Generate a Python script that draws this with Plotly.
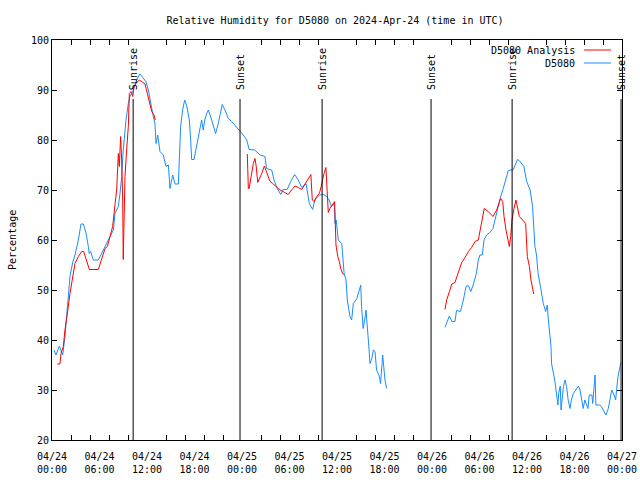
import pandas as pd
import plotly.graph_objects as go

# ---- data (hours since 2024-04-24 00:00 UTC, relative humidity %) ----
obs_hours = [0.25, 0.5, 0.93, 1.35, 1.64, 1.85, 2.06, 2.27, 2.6, 2.9, 3.33, 3.66, 3.96, 4.3, 4.59, 4.7, 4.88,
             5.22, 5.85, 6.48, 6.9, 7.33, 7.75, 7.96, 8.38, 8.59, 8.8, 9.0, 9.35, 9.64, 9.85, 10.2, 10.48,
             10.78, 11.1, 11.54, 11.87, 12.17, 12.46, 12.72, 13.0, 13.14, 13.35, 13.64, 14.06, 14.4, 14.7,
             14.9, 15.25, 15.54, 15.96, 16.08, 16.25, 16.5, 16.76, 17.0, 17.35, 17.52, 17.64, 17.94, 18.27,
             18.57, 18.9, 19.1, 19.3, 19.54, 19.75, 20.17, 20.67, 21.0, 21.5, 21.85, 22.27, 22.7, 23.1, 23.5,
             23.8, 24.17, 24.6, 24.9, 25.6, 26.3, 26.9, 27.1, 27.75, 28.04, 28.46, 28.9, 29.2, 29.7, 30.15,
             30.65, 31.1, 31.54, 32.1, 32.25, 32.5, 32.93, 33.2, 33.77, 34.27, 34.7, 35.0, 35.3, 35.66, 35.75,
             35.9, 36.16, 36.6, 36.9, 37.14, 37.3, 37.64, 37.85, 38.06, 38.5, 38.8, 39.0, 39.1, 39.3, 39.5,
             39.66, 39.96, 40.17, 40.4, 40.6, 40.8, 41.0, 41.35, 41.5, 41.77, 41.94, 42.06, 42.28,
             None,
             49.64, 50.19, 50.5, 50.9, 51.1, 51.6, 51.96, 52.3, 52.6, 52.9, 53.2, 53.6, 53.85, 54.06, 54.35,
             54.57, 54.9, 55.3, 55.7, 55.96, 56.17, 56.6, 57.0, 57.35, 57.64, 58.27, 58.5, 58.8, 59.0, 59.33,
             59.6, 59.96, 60.4, 60.7, 61.0, 61.2, 61.4, 61.7, 61.85, 62.06, 62.36, 62.56, 62.7, 62.9, 63.03,
             63.1, 63.3, 63.5, 63.75, 63.9, 64.0, 64.2, 64.3, 64.46, 64.6, 64.8, 65.0, 65.2, 65.43, 65.6,
             65.85, 66.2, 66.5, 66.7, 66.9, 67.1, 67.3, 67.5, 67.7, 67.86, 68.2, 68.3, 68.46, 68.6, 68.7,
             69.2, 69.4, 69.7, 69.97, 70.27, 70.57, 70.7, 71.0, 71.2, 71.33, 71.5, 71.75, 71.87]
obs_rh = [38, 37, 38.8, 37, 40.7, 44.7, 49.4, 52.7, 55.4, 57, 60, 63.2, 63.2, 61.4, 58.7, 57.3, 57.7,
          56, 56, 58, 59.3, 60.7, 62, 65.3, 66.7, 69.3, 72.7, 78, 84, 87.3, 88.7, 89.7, 91,
          92.3, 93.2, 92.3, 91.7, 90, 87.3, 85.3, 83.3, 79.3, 81, 77.7, 77, 74.7, 75,
          70.3, 73, 71.2, 71.2, 76, 82.7, 86, 88, 87, 84, 80, 76.1, 76.1, 78.7,
          80.7, 84, 82, 84, 85.3, 86, 84, 81.3, 83.3, 87.1, 86, 84.3, 83.7, 83, 82.3,
          81.7, 81, 80, 78.1, 78, 77, 76.7, 74.3, 74, 72, 70.3, 69.1, 70.1, 70.1, 71.7,
          73.1, 72, 70.5, 71.2, 69.7, 67.3, 66.1, 68, 69, 69.1, 68.7, 68, 66.7, 67.3, 63.3,
          64, 60, 59.3, 53.3, 52, 48, 44.7, 44, 47.3, 48.3, 50, 51, 46.7, 42.3, 44,
          46, 40, 35.3, 36.3, 38, 37.7, 34, 32.7, 31.3, 37, 34, 32, 30.3,
          None,
          42.5, 44.8, 43.7, 43.7, 45.9, 45.7, 48, 50.7, 50.9, 49.7, 51, 53.3, 56, 57, 57,
          60, 61, 61.5, 62.3, 64, 65.7, 68.3, 70.3, 72.3, 73.9, 74.1, 75, 76.1, 75.9, 75.2,
          74.7, 71.7, 70, 66.7, 58.7, 57, 53.3, 50.7, 49.3, 47.3, 45.7, 47, 44, 41, 38.7,
          35.3, 33.7, 32, 29, 27, 29.3, 30.8, 26, 29.3, 30.7, 32, 30.7, 28, 26.3, 28,
          29.3, 30.1, 30.8, 30, 28, 26.3, 28, 27.3, 26.3, 29, 29, 27.3, 31.3, 33, 27,
          27, 26.7, 25.7, 25, 26.3, 29, 30, 29, 28, 30.3, 32.7, 34.7, 35.5]

ana_hours = [0.67, 1.0, 1.14, 1.43, 1.64, 1.85, 2.06, 2.27, 2.48, 2.7, 2.9, 3.33, 3.75, 4.0, 4.38, 4.72,
             5.85, 6.27, 6.7, 7.0, 7.33, 7.66, 7.83, 7.96, 8.17, 8.3, 8.38, 8.5, 8.67, 8.8, 8.93, 9.0,
             9.1, 9.22, 9.43, 9.64, 9.77, 9.98, 10.2, 10.36, 10.6, 11.03, 11.33, 11.75, 12.04, 12.3,
             12.6, 12.88, 13.05,
             None,
             24.67, 24.8, 24.9, 25.1, 25.43, 25.64, 25.8, 25.98, 26.5, 26.82, 27.1, 27.54, 27.87, 28.3,
             28.8, 29.4, 29.85, 30.27, 30.7, 31.1, 31.54, 31.96, 32.38, 32.7, 32.88, 33.1, 33.43, 33.77,
             34.0, 34.15, 34.36, 34.6, 34.74, 34.9, 35.1, 35.37, 35.6, 35.7, 35.87, 36.1, 36.3, 36.47,
             36.7, 36.9,
             None,
             49.64, 49.85, 50.2, 50.5, 50.9, 51.2, 51.45, 51.75, 52.17, 52.6, 53.0, 53.43, 53.85, 54.06,
             54.35, 54.6, 55.1, 55.7, 56.17, 56.46, 56.67, 56.93, 57.1, 57.35, 57.56, 57.77, 57.94, 58.1,
             58.36, 58.6, 58.78, 59.03, 59.45, 59.83, 60.04, 60.3, 60.5, 60.7, 60.85]
ana_rh = [35.2, 35.2, 37.3, 38.7, 42, 44, 46.7, 49.3, 51.3, 54, 55.3, 56.7, 57.7, 57.7, 56, 54.1,
          54.1, 56, 58.3, 58.7, 60.7, 62.7, 65.3, 67.3, 70, 74.7, 77.3, 74.7, 80.7, 76, 68, 56.1,
          62.7, 72.7, 78, 82.7, 89.3, 89.7, 88.7, 90.7, 91.3, 92, 91.7, 91.2, 89.3, 87.3,
          85.7, 85, 84,
          None,
          77.2, 70.3, 70.3, 72.3, 75.3, 76.3, 74.7, 71.5, 73.3, 74.8, 73.7, 71.7, 71.3, 70.7,
          70, 69.5, 69.1, 70, 70.8, 70.5, 70.1, 71.2, 72.3, 73.1, 68, 67.7, 68.7, 69.3,
          70.7, 72, 73.3, 74.5, 69.3, 65.5, 66.3, 67, 67.5, 67.7, 59, 56.7, 55.7, 54.3,
          53.3, 53.1,
          None,
          46.1, 48, 49.7, 51.2, 51.5, 53, 54.3, 55.5, 56.5, 57.7, 58.5, 59.7, 60, 61.7,
          64.3, 66.3, 65.7, 64.7, 66, 67.3, 68.3, 67.7, 64.7, 62, 60, 58.7, 60.7, 64,
          66.3, 68, 66.7, 64.7, 64, 63.3, 56.7, 54.7, 52, 50, 49.2]

event_labels = ["Sunrise", "Sunset", "Sunrise", "Sunset", "Sunrise", "Sunset"]
event_hours = [10.25, 23.75, 34.12, 47.88, 58.12, 71.88]

series_names = ["D5080 Analysis", "D5080"]
series_colors = ["#ff0000", "#1a8cff"]

base = pd.Timestamp("2024-04-24 00:00")


def to_time(hours):
    return [None if h is None else base + pd.Timedelta(hours=h) for h in hours]


FONT = "DejaVu Sans Mono"
W, H = 640, 480

fig = go.Figure()
fig.add_trace(go.Scatter(x=to_time(obs_hours), y=obs_rh, mode="lines", name=series_names[1],
                         line=dict(color=series_colors[1], width=1), connectgaps=False))
fig.add_trace(go.Scatter(x=to_time(ana_hours), y=ana_rh, mode="lines", name=series_names[0],
                         line=dict(color=series_colors[0], width=1), connectgaps=False))

# sunrise / sunset markers
for lab, t in zip(event_labels, to_time(event_hours)):
    fig.add_shape(type="line", xref="x", yref="y", x0=t, x1=t, y0=20, y1=88.2,
                  line=dict(color="black", width=1))
    fig.add_annotation(x=t, y=89.6, xref="x", yref="y", text=lab, textangle=-90,
                       showarrow=False, xanchor="center", yanchor="bottom",
                       font=dict(family=FONT, size=10, color="black"))

# gnuplot-style key (text then line sample), top right
for i, (nm, col) in enumerate(zip(series_names, series_colors)):
    ypix = 50 + 13 * i
    yp = (440 - ypix) / 400
    fig.add_annotation(xref="paper", yref="paper", x=(577 - 52) / 570, y=yp, text=nm,
                       showarrow=False, xanchor="right", yanchor="middle",
                       font=dict(family=FONT, size=10, color="black"))
    fig.add_shape(type="line", xref="paper", yref="paper", x0=(584 - 52) / 570, x1=(611 - 52) / 570,
                  y0=yp, y1=yp, line=dict(color=col, width=1))

# y-axis title
fig.add_annotation(xref="paper", yref="paper", x=(12 - 52) / 570, y=0.5, text="Percentage",
                   textangle=-90, showarrow=False, xanchor="center", yanchor="middle",
                   font=dict(family=FONT, size=10, color="black"))

fig.update_layout(
    width=W, height=H,
    margin=dict(l=52, r=18, t=40, b=40, autoexpand=False),
    paper_bgcolor="white", plot_bgcolor="white",
    showlegend=False,
    title=dict(text="Relative Humidity for D5080 on 2024-Apr-24 (time in UTC)",
               x=335 / W, xanchor="center", y=1 - 20 / H, yanchor="middle",
               font=dict(family=FONT, size=10, color="black")),
    font=dict(family=FONT, size=10, color="black"),
)

fig.update_xaxes(
    type="date", automargin=False,
    range=[base, base + pd.Timedelta(hours=72)],
    tick0=base, dtick=6 * 3600 * 1000, tickformat="%m/%d<br>%H:%M",
    ticks="inside", ticklen=0, tickcolor="black", ticklabelstandoff=7,
    minor=dict(dtick=2.4 * 3600 * 1000, tick0=base, ticks="inside", ticklen=5, tickcolor="black"),
    showgrid=False, zeroline=False,
    showline=True, linecolor="black", linewidth=1, mirror="ticks",
    tickfont=dict(family=FONT, size=10, color="black"),
)
fig.update_yaxes(
    automargin=False,
    range=[20, 100], dtick=10, tick0=20,
    ticks="inside", ticklen=5, tickcolor="black",
    showgrid=False, zeroline=False,
    showline=True, linecolor="black", linewidth=1, mirror="ticks",
    tickfont=dict(family=FONT, size=10, color="black"),
)

# remove the default page margin so the 640x480 figure fills the window exactly
fig.write_html("out.html",
               config={"displayModeBar": False},
               post_script="document.body.style.margin='0';document.body.style.overflow='hidden';")
